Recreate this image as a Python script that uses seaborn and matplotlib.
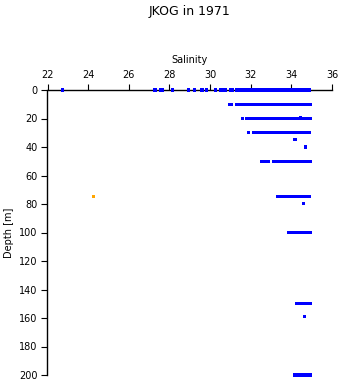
import matplotlib
matplotlib.use("Agg")
import matplotlib.pyplot as plt
import seaborn as sns
import pandas as pd

sal_0 = [22.74, 27.29, 27.55, 27.68, 28.15, 28.93, 29.22, 29.58, 29.62, 29.84,
         30.25, 30.5, 30.6, 30.7, 30.78, 31.0, 31.1,
         31.3, 31.4, 31.5, 31.6, 31.7, 31.8, 31.9, 32.0, 32.1, 32.2, 32.3, 32.4,
         32.5, 32.6, 32.7, 32.8, 32.9, 33.0, 33.1, 33.2, 33.3, 33.4, 33.5, 33.6,
         33.7, 33.8, 33.9, 34.0, 34.1, 34.2, 34.3, 34.4, 34.5, 34.6, 34.7, 34.8,
         34.9]
sal_10 = [30.97, 31.07,
          31.3, 31.4, 31.5, 31.6, 31.7, 31.8, 31.9, 32.0, 32.1, 32.2, 32.3, 32.4,
          32.5, 32.6, 32.7, 32.8, 32.9, 33.0, 33.1, 33.2, 33.3, 33.4, 33.5, 33.6,
          33.7, 33.8, 33.9, 34.0, 34.1, 34.2, 34.3, 34.4, 34.5, 34.6, 34.7, 34.8,
          34.9, 34.95]
sal_20 = [31.6, 31.8, 31.9, 32.0, 32.1, 32.2, 32.3, 32.4,
          32.5, 32.6, 32.7, 32.8, 32.9, 33.0, 33.1, 33.2, 33.3, 33.4, 33.5, 33.6,
          33.7, 33.8, 33.9, 34.0, 34.1, 34.2, 34.3, 34.4, 34.5, 34.6, 34.7, 34.8,
          34.9, 34.95]
sal_30 = [31.87, 32.13, 32.2, 32.35, 32.4,
          32.5, 32.6, 32.7, 32.8, 32.9, 33.0, 33.1, 33.2, 33.3, 33.4, 33.5, 33.6,
          33.7, 33.8, 33.9, 34.0, 34.1, 34.2, 34.3, 34.4, 34.5, 34.6, 34.7, 34.8,
          34.9]
sal_50 = [32.52, 32.7, 32.8, 32.87,
          33.1, 33.2, 33.3, 33.4, 33.5, 33.6,
          33.7, 33.8, 33.9, 34.0, 34.1, 34.2, 34.3, 34.4, 34.5, 34.6, 34.7, 34.8,
          34.9, 34.95]
sal_75 = [33.3, 33.4, 33.5, 33.62,
          33.77, 33.8, 33.9, 34.0, 34.1, 34.2, 34.3, 34.4, 34.5, 34.6, 34.7, 34.8,
          34.9]
sal_100 = [33.88, 33.95, 34.0, 34.1, 34.2, 34.3, 34.4, 34.5, 34.6, 34.7, 34.8,
           34.9, 34.95]
sal_150 = [34.27, 34.3, 34.4, 34.5, 34.6, 34.7, 34.8, 34.9, 34.95]
sal_200 = [34.17, 34.2, 34.3, 34.4, 34.5, 34.6, 34.7, 34.8, 34.9, 34.95]

row_depths = [0, 10, 20, 30, 50, 75, 100, 150, 200]
row_sals = [sal_0, sal_10, sal_20, sal_30, sal_50, sal_75, sal_100, sal_150, sal_200]

# isolated samples
single_sal = [34.47, 34.14, 34.2, 34.7, 34.58, 34.63]
single_depth = [19, 35, 34.5, 40, 79.5, 159]

# flagged sample (orange)
flag_sal = [24.25]
flag_depth = [75]

# ---- build table ----
sal, dep, flag = [], [], []
for d, vals in zip(row_depths, row_sals):
    sal += vals
    dep += [d] * len(vals)
    flag += ["ok"] * len(vals)
sal += single_sal
dep += single_depth
flag += ["ok"] * len(single_sal)
sal += flag_sal
dep += flag_depth
flag += ["flag"] * len(flag_sal)
df = pd.DataFrame({"Salinity": sal, "Depth": dep, "flag": flag})

sns.set_style("ticks")
plt.rcParams["font.family"] = ["DejaVu Sans"]

fig = plt.figure(figsize=(3.41, 3.84), dpi=100)
ax = fig.add_axes([47.5 / 341, 1 - 375 / 384, 284.5 / 341, 285 / 384])

sns.scatterplot(data=df, x="Salinity", y="Depth", hue="flag",
                palette={"ok": "#0000ff", "flag": "#ffa500"},
                marker="s", s=5, linewidth=0, legend=False, ax=ax)
for coll in ax.collections:
    coll.set_clip_on(False)
    coll.set_zorder(5)

ax.set_xlim(22, 36)
ax.set_ylim(200, 0)
ax.set_xticks(range(22, 37, 2))
ax.set_yticks(range(0, 201, 20))
ax.xaxis.set_ticks_position("top")
ax.xaxis.set_label_position("top")
for s in ["right", "bottom"]:
    ax.spines[s].set_visible(False)
for s in ["left", "top"]:
    ax.spines[s].set_color("black")
    ax.spines[s].set_linewidth(1.0)
    ax.spines[s].set_zorder(2)
ax.tick_params(axis="both", length=4, width=0.8, color="black",
               labelsize=7, pad=3, labelcolor="black")
ax.set_xlabel("Salinity", fontsize=7, labelpad=5, color="black")
ax.set_ylabel("Depth [m]", fontsize=7, labelpad=3.5, color="black")

fig.text(189.5 / 341, 1 - 12 / 384, "JKOG in 1971", ha="center", va="center",
         fontsize=9, color="black")

fig.savefig("out.png", dpi=100)
